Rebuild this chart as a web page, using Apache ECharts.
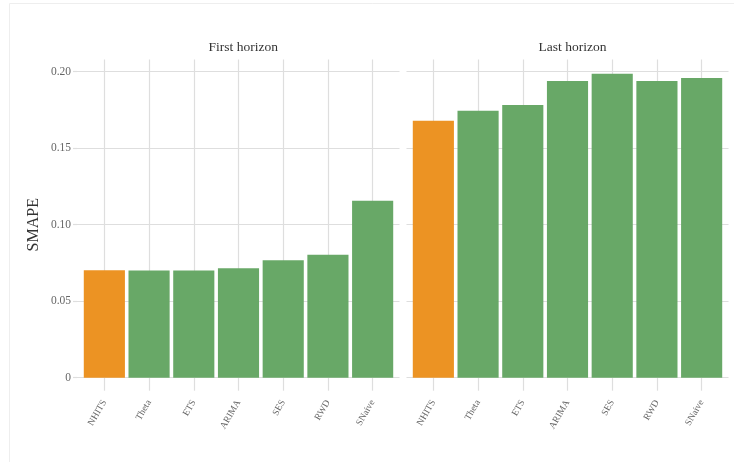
<!DOCTYPE html>
<html>
<head>
<meta charset="utf-8">
<script src="https://cdn.jsdelivr.net/npm/echarts@6/dist/echarts.min.js"></script>
<style>
html,body{margin:0;padding:0;background:#fff;}
#chart{width:734px;height:462px;}
</style>
</head>
<body>
<div id="chart"></div>
<script>
const categories = ['NHITS', 'Theta', 'ETS', 'ARIMA', 'SES', 'RWD', 'SNaive'];
const firstHorizon = [0.0702, 0.0701, 0.0700, 0.0715, 0.0767, 0.0804, 0.1157];
const lastHorizon = [0.1680, 0.1745, 0.1783, 0.1939, 0.1987, 0.1939, 0.1959];
const panelTitles = ['First horizon', 'Last horizon'];
const yTicks = [0, 0.05, 0.10, 0.15, 0.20];
const yAxisName = 'SMAPE';

const ORANGE = '#EC9323';
const GREEN = '#68A867';
const GRID = '#dedede';
const FONT = '"Liberation Serif", "DejaVu Serif", serif';

const chart = echarts.init(document.getElementById('chart'), null, {renderer: 'canvas'});

const Y0 = 377.7, YTOP = 71.7;           // pixel of 0 and of 0.20
const scale = (Y0 - YTOP) / 0.2;
const narrowMax = 0.208;
const narrowTop = Y0 - narrowMax * scale;

function barColor(p) { return p.name === 'NHITS' ? ORANGE : GREEN; }

const wide = [[77, 399.5], [406.5, 728.5]];
const narrow = [[82, 395], [411, 724]];

const grids = [];
wide.forEach((w, i) => {
  grids.push({left: w[0], width: w[1] - w[0], top: YTOP, height: Y0 - YTOP, containLabel: false});
  grids.push({left: narrow[i][0], width: narrow[i][1] - narrow[i][0], top: narrowTop, height: Y0 - narrowTop, containLabel: false});
});

const xAxes = [], yAxes = [];
[0, 1].forEach(i => {
  xAxes.push({gridIndex: 2 * i, type: 'value', min: 0, max: 1, show: false});
  xAxes.push({
    gridIndex: 2 * i + 1, type: 'category', data: categories,
    axisLine: {show: false},
    axisTick: {show: true, length: 13, alignWithLabel: true, lineStyle: {color: GRID, width: 1.2}},
    splitLine: {show: true, alignWithLabel: true, lineStyle: {color: GRID, width: 1.2}},
    axisLabel: {rotate: 60, margin: 23, fontSize: 9.5, color: '#666', fontFamily: FONT, interval: 0}
  });
  yAxes.push({
    gridIndex: 2 * i, type: 'value', min: yTicks[0], max: yTicks[yTicks.length - 1], interval: 0.05,
    axisLine: {show: false},
    axisTick: {show: i === 0, length: 4, lineStyle: {color: GRID, width: 1.2}},
    splitLine: {show: true, lineStyle: {color: GRID, width: 1.2}},
    axisLabel: {
      show: i === 0, fontSize: 11.5, color: '#666', fontFamily: FONT, margin: 6,
      formatter: v => (v === 0 ? '0' : v.toFixed(2))
    },
    name: i === 0 ? yAxisName : '',
    nameLocation: 'middle', nameGap: 35,
    nameTextStyle: {fontSize: 16, color: '#333', fontFamily: FONT}
  });
  yAxes.push({gridIndex: 2 * i + 1, type: 'value', min: 0, max: narrowMax, show: false});
});

const option = {
  backgroundColor: '#fff',
  animation: false,
  graphic: [{
    type: 'rect', silent: true, z: -10,
    shape: {x: 9.5, y: 3.5, width: 800, height: 500},
    style: {fill: 'none', stroke: '#eeeeee', lineWidth: 1}
  }],
  title: panelTitles.map((t, i) => ({
    text: t,
    left: (wide[i][0] + wide[i][1]) / 2,
    top: 35,
    textAlign: 'center',
    textStyle: {fontSize: 13.5, fontWeight: 'normal', color: '#333', fontFamily: FONT}
  })),
  grid: grids,
  xAxis: xAxes,
  yAxis: yAxes,
  series: [firstHorizon, lastHorizon].map((d, i) => ({
    type: 'bar',
    xAxisIndex: 2 * i + 1,
    yAxisIndex: 2 * i + 1,
    data: d,
    barCategoryGap: '8%',
    itemStyle: {color: barColor},
    z: 3
  }))
};

chart.setOption(option);
</script>
</body>
</html>
